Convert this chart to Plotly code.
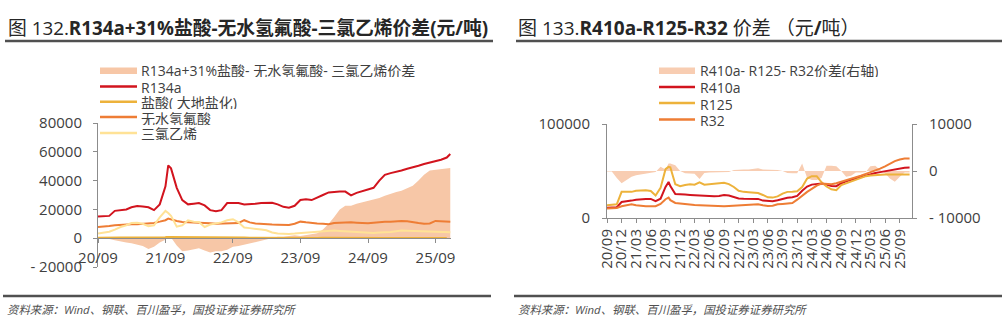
import plotly.graph_objects as go

W, H = 1002, 330


def px(x):
    return x / W


def py(y):
    return 1 - y / H


def month_starts(year, month, n):
    out = []
    for i in range(n):
        y = year + (month - 1 + i) // 12
        m = (month - 1 + i) % 12 + 1
        out.append(f"{y}-{m:02d}-01")
    return out


months = month_starts(2020, 9, 63)  # 2020-09 .. 2025-11

# ---------------- Fig.132: R134a chain (yuan/ton) ----------------
left_dates = months[:13] + ["2021-09-16"] + months[13:] + ["2025-11-20"]

r134a = [15000, 15000, 15500, 19000, 19500, 20000, 21500, 22300, 22000, 21500, 19500, 23500, 36000,
         50500,
         48500, 35000, 26500, 23500, 24000, 24400, 22800, 19500, 18800, 19500, 24400, 24600, 24400,
         23400, 23500, 24000, 24400, 24400, 24600, 23500, 21800, 21200, 22500, 26500, 27000, 26500,
         28500, 30000, 31800, 32200, 32400, 32400, 29800, 31500, 32500, 33800, 35000, 40000, 44000,
         45200, 46000, 47000, 48200, 49000, 50300, 51500, 52500, 53000, 54500, 56000,
         58500]

hcl = [300, 300, 300, 350, 400, 400, 450, 450, 500, 550, 600, 700, 800,
       900,
       900, 800, 700, 650, 600, 600, 550, 500, 500, 500, 450, 450, 400, 400, 350, 300, 300, 300,
       250, 250, 200, 250, 200, 200, 150, 200, 200, 250, 200, 200, 200, 150, 200, 200, 250, 200,
       200, 200, 150, 200, 200, 200, 250, 200, 200, 200, 150, 200, 200,
       200]

hf = [7800, 8000, 8500, 9000, 9400, 9600, 9700, 9700, 10000, 10300, 10600, 11500, 12500,
      13600,
      13000, 12000, 11300, 11000, 10800, 10600, 10500, 10300, 10100, 10100, 10100, 10100, 10500,
      12500, 11000, 10200, 9800, 9700, 9500, 9400, 9300, 9200, 10000, 11500, 11000, 10400, 10200,
      10000, 9700, 10600, 10800, 11000, 11000, 10800, 10400, 10400, 10800, 11300, 11500, 11500,
      11800, 12000, 11800, 11000, 10500, 10000, 10200, 12000, 11800, 11500,
      11500]

tce = [3200, 3800, 4500, 6000, 7800, 9000, 10500, 10800, 10000, 8300, 9000, 14500, 19000,
       17500,
       15500, 8000, 9000, 12400, 11500, 11300, 7800, 9500, 10100, 11000, 12500, 13200, 11000,
       7400, 7000, 6700, 6000, 5500, 4000, 3300, 3000, 3000, 3200, 3500, 3800, 4000, 4500, 5000,
       5300, 5300, 5000, 4800, 4600, 4200, 3800, 3500, 3600, 3900, 4000, 4300, 4800, 5300, 5200,
       5000, 5000, 4800, 4600, 4600, 4400, 4200,
       4100]

spread_134a = [0, 0, -500, -1500, -2500, -3000, -3500, -4500, -5500, -7500, -6000, -3000, -1000,
               800,
               500, -5000, -9000, -8500, -7500, -7000, -8500, -10000, -9000, -9000, -8000, -6000,
               -5500, -4500, -3500, -2500, -1500, -800, 500, 1000, 1000, 1500, 2000, 1500, 2000,
               2500, 3500, 6000, 10000, 14500, 20000, 22500, 22500, 24000, 25000, 26000, 27000,
               28000, 29500, 30500, 32000, 33000, 34500, 36500, 40000, 44000, 47000, 47500, 48000,
               48500,
               48800]

left_ticks = ["2020-09-01", "2021-09-01", "2022-09-01", "2023-09-01", "2024-09-01", "2025-09-01"]
left_ticktext = ["20/09", "21/09", "22/09", "23/09", "24/09", "25/09"]
left_yticks = [-20000, 0, 20000, 40000, 60000, 80000]
left_yticktext = ["- 20000", "0", "20000", "40000", "60000", "80000"]

# ---------------- Fig.133: R410a / R125 / R32 (yuan/ton) ----------------
right_dates = months[:13] + ["2021-09-20"] + months[13:]

r410a = [11000, 11000, 11500, 17000, 17500, 18500, 19500, 20300, 20300, 20300, 18000, 20500, 33000,
         38400,
         34000, 25500, 24900, 24900, 24500, 24200, 23800, 23500, 23200, 23100, 23500, 24500, 24000,
         22400, 20800, 20500, 20300, 20300, 20300, 18500, 17800, 17800, 18800, 20500, 21500, 22000,
         23500, 29000, 33500, 35500, 36500, 36700, 35500, 34000, 33800, 37000, 39000, 40500, 42500,
         44000, 45500, 46800, 47800, 48800, 49800, 50800, 51500, 52700, 53500, 53700]

r125 = [13500, 14000, 14600, 27800, 27800, 27800, 29000, 29500, 29500, 28800, 24000, 32000, 52000,
        54400,
        54000, 36000, 33800, 35000, 35900, 35500, 38000, 35500, 35900, 36000, 36500, 37400, 36000,
        33000, 29000, 27800, 27500, 26700, 26500, 24500, 22000, 21700, 23000, 26000, 27800, 28000,
        28500, 33000, 42000, 44500, 44500, 38000, 33500, 30500, 29500, 35000, 37000, 39000, 41000,
        43000, 44500, 45200, 45800, 46300, 46300, 46300, 46300, 46300, 46300, 46300]

r32 = [10000, 10300, 10700, 12500, 13500, 14600, 13500, 12800, 12500, 12500, 12500, 15000, 20000,
       21700,
       19000, 16000, 15300, 14500, 14000, 13800, 13500, 13200, 13000, 12800, 12500, 12500, 12800,
       13200, 13500, 13800, 14200, 14600, 14600, 13500, 12800, 13000, 14600, 15000, 15500, 16000,
       19500, 24000, 27800, 31000, 34500, 36700, 36700, 36000, 37000, 38500, 40000, 41500, 43000,
       45000, 47000, 48500, 50500, 52500, 55000, 58000, 60500, 62300, 63300, 63300]

spread_410a = [-100, -100, -1500, -2600, -1900, -1200, -900, -700, -500, -400, -200, 900, 300,
               1600,
               1600, 1200, 0, -500, -500, -600, -1700, -400, -300, -300, -300, -200, -200, 200,
               300, 300, 300, 400, 600, 300, 300, 300, 200, 0, -400, -500, -500, 1600, -1500,
               -1900, -1900, -1500, 1100, 1100, 1000, 0, -1200, -1000, -300, -300, -200, 1000,
               1100, 200, -500, -1600, -2300, -1200, -300, -300]

right_ticks = month_starts(2020, 9, 61)[::3]
right_ticktext = [d[2:4] + "/" + d[5:7] for d in right_ticks]

# ---------------- styling ----------------
RED = "#D2141E"
GOLD = "#EDB23B"
ORANGE = "#EE7D35"
PALE = "#FFE296"
PEACH = "#F7C7A7"
PEACH2 = "#F8CDB2"
AXIS = "#8C8C8C"
TXT = "#404040"
NUM_FONT = dict(family="Open Sans, Noto Sans CJK SC", size=15, color=TXT)
CJK = "Noto Sans CJK SC"

fig = go.Figure()

# left panel
fig.add_trace(go.Scatter(x=left_dates, y=spread_134a, mode="lines", fill="tozeroy",
                         fillcolor=PEACH, line=dict(width=0, color=PEACH),
                         xaxis="x", yaxis="y"))
for ys, col in [(r134a, RED), (hcl, GOLD), (hf, ORANGE), (tce, PALE)]:
    fig.add_trace(go.Scatter(x=left_dates, y=ys, mode="lines", line=dict(width=2, color=col),
                             xaxis="x", yaxis="y"))

# right panel: spread on the right axis (base), prices on the left axis (overlay)
fig.add_trace(go.Scatter(x=right_dates, y=spread_410a, mode="lines", fill="tozeroy",
                         fillcolor=PEACH2, line=dict(width=0, color=PEACH2),
                         xaxis="x2", yaxis="y2"))
for ys, col in [(r410a, RED), (r125, GOLD), (r32, ORANGE)]:
    fig.add_trace(go.Scatter(x=right_dates, y=ys, mode="lines", line=dict(width=2, color=col),
                             xaxis="x2", yaxis="y3"))

axis_common = dict(showline=True, linecolor=AXIS, linewidth=1, ticks="outside", ticklen=4,
                   tickcolor=AXIS, showgrid=False, zeroline=False, tickfont=NUM_FONT,
                   automargin=False)

fig.update_layout(
    width=W, height=H, autosize=False,
    margin=dict(l=0, r=0, t=0, b=0, pad=0, autoexpand=False),
    paper_bgcolor="white", plot_bgcolor="rgba(0,0,0,0)", showlegend=False,
    xaxis=dict(domain=[px(98), px(451.2)], type="date", range=["2020-09-01", "2025-11-25"],
               anchor="free", position=py(238.2), tickmode="array", tickvals=left_ticks,
               ticktext=left_ticktext, ticklabelstandoff=2, **axis_common),
    yaxis=dict(domain=[py(267), py(123)], range=[-20000, 80000], anchor="x",
               tickmode="array", tickvals=left_yticks, ticktext=left_yticktext,
               ticklabelstandoff=8, **axis_common),
    xaxis2=dict(domain=[px(607), px(912)], type="date", range=["2020-09-01", "2025-11-16"],
                anchor="y2", tickmode="array", tickvals=right_ticks, ticktext=right_ticktext,
                tickangle=-90, **axis_common),
    yaxis2=dict(domain=[py(218), py(124)], range=[-10000, 10000], side="right", anchor="x2",
                tickmode="array", tickvals=[-10000, 0, 10000],
                ticktext=["- 10000", "0", "10000"], ticklabelstandoff=9, **axis_common),
    yaxis3=dict(overlaying="y2", side="left", range=[0, 100000], anchor="x2",
                tickmode="array", tickvals=[0, 100000], ticktext=["0", "100000"],
                ticklabelstandoff=9, **axis_common),
)

shapes = []
annotations = []


def hline(x0, x1, y, color, width):
    shapes.append(dict(type="line", xref="paper", yref="paper", x0=px(x0), x1=px(x1),
                       y0=py(y), y1=py(y), line=dict(color=color, width=width)))


def label(x, y, text, size=14, color=TXT, xanchor="left", style="normal", height=None):
    ann = dict(x=px(x), y=py(y), xref="paper", yref="paper", text=text,
               showarrow=False, xanchor=xanchor, yanchor="middle", borderpad=0,
               font=dict(family="Open Sans, " + CJK, size=size, color=color, style=style))
    if height is not None:
        ann["height"] = height
    annotations.append(ann)


# titles and rules
label(7, 28, "图 132.<b>R134a+31%盐酸-无水氢氟酸-三氯乙烯价差(元/吨)</b>", size=18.8, color="#262626")
label(517, 28, "图 133.<b>R410a-R125-R32</b> 价差 （元<b>/</b>吨）", size=19, color="#262626")
hline(5, 493, 41, "#505050", 2.5)
hline(516, 1002, 41, "#505050", 2.5)
hline(3, 491, 296, "#505050", 2.5)
hline(514, 1002, 296, "#505050", 2.5)
source = "资料来源：Wind、钢联、百川盈孚，国投证券证券研究所"
label(6, 309, source, size=11.4, color="#505050", style="italic")
label(517, 309, source, size=11.4, color="#505050", style="italic")

# left legend
LEG = 14
shapes.append(dict(type="rect", xref="paper", yref="paper", x0=px(100), x1=px(137),
                   y0=py(74), y1=py(67.5), fillcolor=PEACH, line=dict(width=0)))
label(140, 71, "R134a+31%盐酸- 无水氢氟酸- 三氯乙烯价差", size=LEG, height=13)
for y, col, name in [(86.5, RED, "R134a"), (101.8, GOLD, "盐酸( 大地盐化)"),
                     (117, ORANGE, "无水氢氟酸"), (133, PALE, "三氯乙烯")]:
    hline(100, 137, y, col, 2.5)
    label(140, y + 1, name, size=LEG, height=13)

# right legend
shapes.append(dict(type="rect", xref="paper", yref="paper", x0=px(659), x1=px(695),
                   y0=py(74), y1=py(67.5), fillcolor=PEACH2, line=dict(width=0)))
label(699, 71, "R410a- R125- R32价差(右轴)", size=LEG, height=13)
for y, col, name in [(87, RED, "R410a"), (103, GOLD, "R125"), (119.5, ORANGE, "R32")]:
    hline(659, 695, y, col, 2.5)
    label(699, y + 1, name, size=LEG, height=13)

fig.update_layout(shapes=shapes, annotations=annotations)
fig.write_html("out.html",
               post_script="document.body.style.margin='0';document.body.style.padding='0';")
